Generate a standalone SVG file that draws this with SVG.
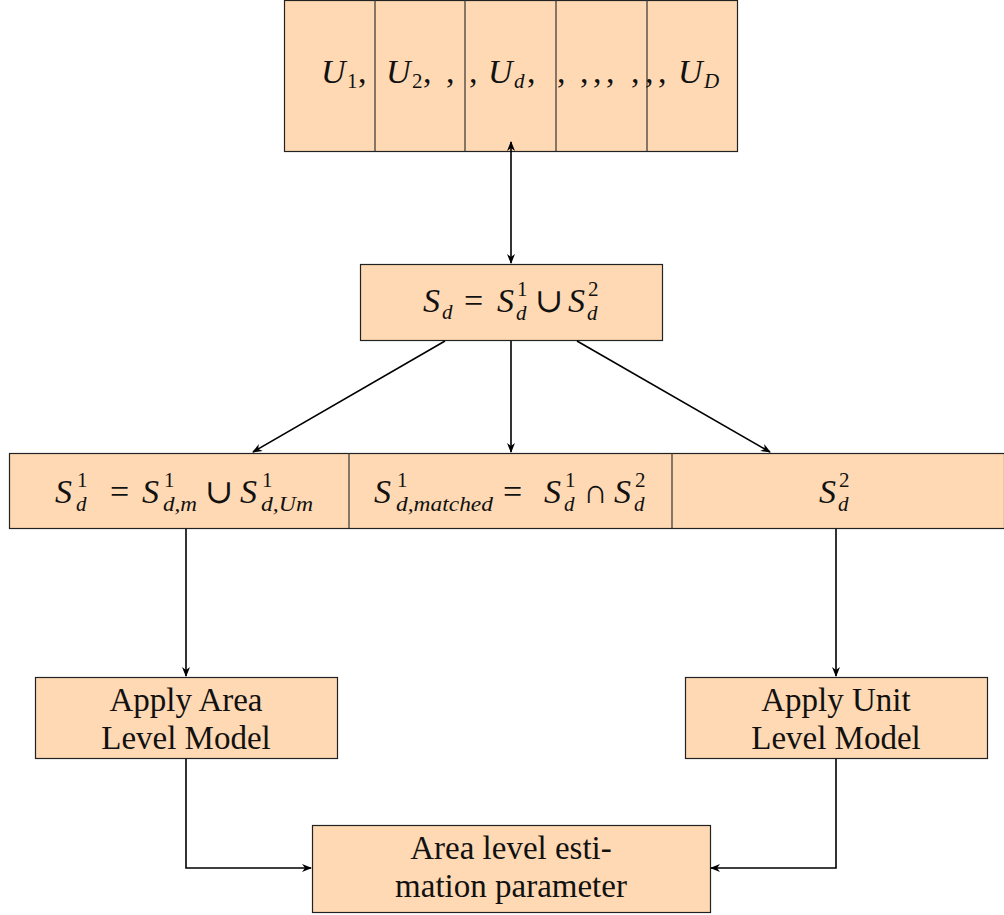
<svg xmlns="http://www.w3.org/2000/svg" width="1004" height="915" viewBox="0 0 1004 915">
<defs>
<marker id="arr" viewBox="0 0 10 10" refX="9" refY="5" markerWidth="10" markerHeight="10" markerUnits="userSpaceOnUse" orient="auto-start-reverse">
<path d="M0,1 L10,5 L0,9 L3,5 Z" fill="#000"/>
</marker>
<style>
.box{fill:#FFD9B3;stroke:#222;stroke-width:1.2}
.div{stroke:#333;stroke-width:1.2}
.t{font-family:"Liberation Serif","DejaVu Serif",serif;font-size:33px;fill:#111;text-anchor:middle}
.f{font-family:"Liberation Serif","DejaVu Serif",serif;fill:#111}
.m{font-size:34px;font-style:italic}
.u{font-size:34px}
.sb{font-size:21px;font-style:italic}
.su{font-size:21px}
.c{fill:none;stroke:#000;stroke-width:1.6}
</style>
</defs>
<g id="top">
<rect class="box" x="284.5" y="0.5" width="453" height="151"/>
<line class="div" x1="375" y1="0" x2="375" y2="151"/>
<line class="div" x1="465" y1="0" x2="465" y2="151"/>
<line class="div" x1="556" y1="0" x2="556" y2="151"/>
<line class="div" x1="647" y1="0" x2="647" y2="151"/>
<text class="f"><tspan class="m" x="321" y="83">U</tspan><tspan class="su" x="347" y="88">1</tspan><tspan class="u" x="358" y="83">,</tspan></text>
<text class="f"><tspan class="m" x="386" y="83">U</tspan><tspan class="su" x="412" y="88">2</tspan><tspan class="u" x="423" y="83">,</tspan><tspan class="u" x="446" y="83">,</tspan></text>
<text class="f"><tspan class="u" x="469" y="83">,</tspan><tspan class="m" x="488" y="83">U</tspan><tspan class="sb" x="514" y="88">d</tspan><tspan class="u" x="527" y="83">,</tspan></text>
<text class="f"><tspan class="u" x="557" y="83">,</tspan><tspan class="u" x="580" y="83">,</tspan><tspan class="u" x="593" y="83">,</tspan><tspan class="u" x="606" y="83">,</tspan><tspan class="u" x="631" y="83">,</tspan><tspan class="u" x="645" y="83">,</tspan></text>
<text class="f"><tspan class="u" x="658" y="83">,</tspan><tspan class="m" x="678" y="83">U</tspan><tspan class="sb" x="704" y="88">D</tspan></text>
</g>
<g id="sd">
<rect class="box" x="360.5" y="264.5" width="302" height="76"/>
<text class="f"><tspan class="m" x="423" y="312">S</tspan><tspan class="sb" x="442" y="319">d</tspan><tspan class="u" x="464" y="312">=</tspan><tspan class="m" x="497" y="312">S</tspan><tspan class="su" x="517" y="296">1</tspan><tspan class="sb" x="516" y="320">d</tspan><tspan class="u" x="535" y="312">∪</tspan><tspan class="m" x="568" y="312">S</tspan><tspan class="su" x="588" y="296">2</tspan><tspan class="sb" x="587" y="320">d</tspan></text>
</g>
<g id="row">
<rect class="box" x="9.5" y="453.5" width="995" height="75"/>
<line class="div" x1="349" y1="453" x2="349" y2="528"/>
<line class="div" x1="672" y1="453" x2="672" y2="528"/>
<text class="f"><tspan class="m" x="55" y="503">S</tspan><tspan class="su" x="77" y="487">1</tspan><tspan class="sb" x="76" y="511">d</tspan><tspan class="u" x="110" y="503">=</tspan><tspan class="m" x="142" y="503">S</tspan><tspan class="su" x="164" y="487">1</tspan><tspan class="sb" x="163" y="511" textLength="34" lengthAdjust="spacingAndGlyphs">d,m</tspan><tspan class="u" x="205" y="503">∪</tspan><tspan class="m" x="240" y="503">S</tspan><tspan class="su" x="262" y="487">1</tspan><tspan class="sb" x="261" y="511" textLength="52" lengthAdjust="spacingAndGlyphs">d,Um</tspan></text>
<text class="f"><tspan class="m" x="374" y="503">S</tspan><tspan class="su" x="397" y="487">1</tspan><tspan class="sb" x="396" y="511" textLength="97" lengthAdjust="spacingAndGlyphs">d,matched</tspan><tspan class="u" x="503" y="503">=</tspan><tspan class="m" x="544" y="503">S</tspan><tspan class="su" x="565" y="487">1</tspan><tspan class="sb" x="564" y="511">d</tspan><tspan class="u" x="583" y="503">∩</tspan><tspan class="m" x="614" y="503">S</tspan><tspan class="su" x="635" y="487">2</tspan><tspan class="sb" x="634" y="511">d</tspan></text>
<text class="f"><tspan class="m" x="819" y="503">S</tspan><tspan class="su" x="839" y="487">2</tspan><tspan class="sb" x="838" y="511">d</tspan></text>
</g>
<g id="area">
<rect class="box" x="35.5" y="677.5" width="302" height="81"/>
<text class="t" x="186" y="711">Apply Area</text>
<text class="t" x="186" y="749">Level Model</text>
</g>
<g id="unit">
<rect class="box" x="685.5" y="677.5" width="302" height="81"/>
<text class="t" x="836" y="711">Apply Unit</text>
<text class="t" x="836" y="749">Level Model</text>
</g>
<g id="est">
<rect class="box" x="312.5" y="825.5" width="398" height="87"/>
<text class="t" x="511" y="859">Area level esti-</text>
<text class="t" x="511" y="897">mation parameter</text>
</g>
<g id="connectors">
<line class="c" x1="511" y1="142" x2="511" y2="263" marker-start="url(#arr)" marker-end="url(#arr)"/>
<line class="c" x1="445" y1="341" x2="253" y2="452" marker-end="url(#arr)"/>
<line class="c" x1="511" y1="341" x2="511" y2="452" marker-end="url(#arr)"/>
<line class="c" x1="577" y1="341" x2="770" y2="452" marker-end="url(#arr)"/>
<line class="c" x1="186" y1="529" x2="186" y2="676" marker-end="url(#arr)"/>
<line class="c" x1="836" y1="529" x2="836" y2="676" marker-end="url(#arr)"/>
<polyline class="c" points="186,759 186,868 311,868" marker-end="url(#arr)"/>
<polyline class="c" points="836,759 836,868 711,868" marker-end="url(#arr)"/>
</g>
</svg>
